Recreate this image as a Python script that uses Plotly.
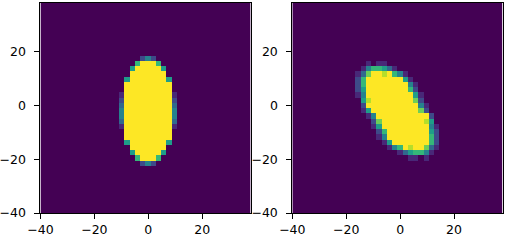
import numpy as np
import plotly.graph_objects as go

# Grid: 40 x 40 cells, drawn over the extent -40 .. 38 on both axes
N_CELLS = 40
X_EXTENT = [-40, 38]
Y_EXTENT = [-40, 38]
TICKS = [-40, -20, 0, 20]
LEVELS = 9  # digits 0..9 -> value digit/9

# Cell values: (row from bottom, first column, digits)
LEFT_ROWS = [
    (29, 19, "242"),
    (28, 18, "69996"),
    (27, 17, "5999995"),
    (26, 17, "9999999"),
    (25, 16, "599999995"),
    (24, 16, "999999999"),
    (23, 16, "999999999"),
    (22, 15, "19999999991"),
    (21, 15, "29999999992"),
    (20, 15, "39999999993"),
    (19, 15, "49999999994"),
    (18, 15, "49999999994"),
    (17, 15, "39999999993"),
    (16, 15, "19999999991"),
    (15, 16, "999999999"),
    (14, 16, "999999999"),
    (13, 16, "599999995"),
    (12, 17, "9999999"),
    (11, 17, "5999995"),
    (10, 18, "69996"),
    (9, 19, "242"),
]

RIGHT_ROWS = [
    (28, 14, "1011"),
    (27, 13, "1466531"),
    (26, 12, "1379989641"),
    (25, 12, "26999999951"),
    (24, 12, "269999999941"),
    (23, 12, "259999999962"),
    (22, 12, "1499999999951"),
    (21, 13, "589999999972"),
    (20, 13, "2999999999941"),
    (19, 13, "1599999999972"),
    (18, 14, "1499999999992"),
    (17, 15, "279999999985"),
    (16, 15, "1599999999941"),
    (15, 16, "269999999952"),
    (14, 16, "149999999962"),
    (13, 17, "15999999962"),
    (12, 18, "1469899731"),
    (11, 20, "1356641"),
    (10, 22, "1101"),
]

VIRIDIS10 = ["#440154", "#482878", "#3e4a89", "#31688e", "#26828e",
             "#1f9e89", "#35b779", "#6ece58", "#b5de2b", "#fde725"]


def build(rows):
    z = np.zeros((N_CELLS, N_CELLS))
    for r, c0, s in rows:
        for i, ch in enumerate(s):
            z[r, c0 + i] = int(ch) / LEVELS
    return z


xe = np.linspace(X_EXTENT[0], X_EXTENT[1], N_CELLS + 1)
ye = np.linspace(Y_EXTENT[0], Y_EXTENT[1], N_CELLS + 1)
xc = (xe[:-1] + xe[1:]) / 2
yc = (ye[:-1] + ye[1:]) / 2

colorscale = [[i / (len(VIRIDIS10) - 1), c] for i, c in enumerate(VIRIDIS10)]

fig = go.Figure()
fig.add_trace(go.Heatmap(z=build(LEFT_ROWS), x=xc, y=yc, colorscale=colorscale,
                         zmin=0, zmax=1, showscale=False, xaxis="x", yaxis="y",
                         hoverinfo="skip"))
fig.add_trace(go.Heatmap(z=build(RIGHT_ROWS), x=xc, y=yc, colorscale=colorscale,
                         zmin=0, zmax=1, showscale=False, xaxis="x2", yaxis="y2",
                         hoverinfo="skip"))

font = dict(family="DejaVu Sans", size=12.5, color="black")
common = dict(tickvals=TICKS, ticks="outside", ticklen=5, tickwidth=1,
              tickcolor="black", showline=True, linecolor="black", linewidth=1,
              mirror=True, showgrid=False, zeroline=False, tickfont=font,
              automargin=False)

fig.update_layout(
    width=506, height=242,
    margin=dict(l=40, r=3, t=3, b=29, autoexpand=False),
    paper_bgcolor="white", plot_bgcolor="white",
    showlegend=False,
    xaxis=dict(domain=[0.001, 0.455], anchor="y", range=X_EXTENT, **common),
    yaxis=dict(domain=[0, 1], anchor="x", range=Y_EXTENT, ticklabelstandoff=6, **common),
    xaxis2=dict(domain=[0.545, 0.999], anchor="y2", range=X_EXTENT, **common),
    yaxis2=dict(domain=[0, 1], anchor="x2", range=Y_EXTENT, ticklabelstandoff=6, **common),
)

fig.write_html("out.html")
